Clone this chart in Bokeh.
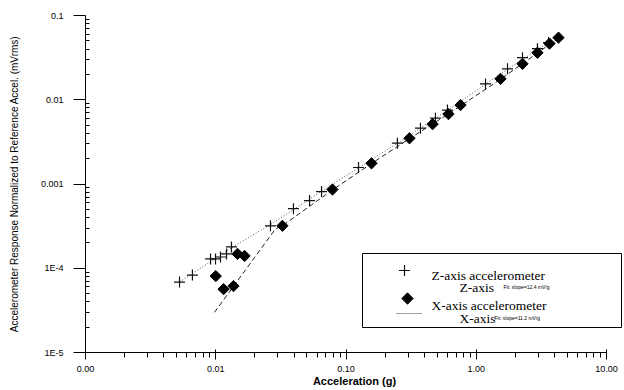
import math
from bokeh.plotting import figure
from bokeh.models import FixedTicker, Label, BoxAnnotation, Range1d
from bokeh.embed import file_html
from bokeh.resources import INLINE

# ---------------- data ----------------
z_accel = [0.00527, 0.00662, 0.00912, 0.00996, 0.01087, 0.0121, 0.0132, 0.0263, 0.0395,
           0.0525, 0.0649, 0.1248, 0.248, 0.373, 0.486, 0.601, 1.178, 1.738, 2.265, 2.95, 3.59]
z_resp = [6.85e-5, 8.3e-5, 1.29e-4, 1.29e-4, 1.36e-4, 1.48e-4, 1.79e-4, 3.19e-4, 5.1e-4,
          6.36e-4, 8.13e-4, 1.57e-3, 3.05e-3, 4.6e-3, 6.05e-3, 7.55e-3, 0.0154, 0.0233,
          0.0316, 0.0404, 0.0477]

x_accel = [0.0100, 0.01148, 0.01368, 0.01469, 0.01664, 0.0325, 0.0787, 0.157, 0.307,
           0.462, 0.612, 0.757, 1.535, 2.265, 2.95, 3.65, 4.28]
x_resp = [8.07e-5, 5.65e-5, 6.14e-5, 1.48e-4, 1.40e-4, 3.19e-4, 8.6e-4, 1.76e-3, 3.49e-3,
          5.13e-3, 6.76e-3, 8.65e-3, 0.0177, 0.0267, 0.0361, 0.0464, 0.0546]

xfit_accel = [0.00978, 0.0288, 0.0325, 0.0787, 0.157, 0.307, 0.612, 1.535, 4.28]
xfit_resp = [3.0e-5, 2.94e-4, 3.2e-4, 8.5e-4, 1.75e-3, 3.45e-3, 6.8e-3, 1.75e-2, 5.4e-2]

zfit_accel = [0.0053, 0.0132, 0.0263, 0.0649, 0.248, 0.601, 1.738, 3.6]
zfit_resp = [6.9e-5, 1.75e-4, 3.3e-4, 8.2e-4, 3.05e-3, 7.5e-3, 2.3e-2, 4.8e-2]

x_major = [0.001, 0.01, 0.1, 1.0, 10.0]
x_labels = ["0.00", "0.01", "0.10", "1.00", "10.00"]
y_major = [1e-5, 1e-4, 1e-3, 1e-2, 1e-1]
y_labels = ["1E-5", "1E-4", "0.001", "0.01", "0.1"]

legend_z = "Z-axis accelerometer"
legend_zfit = "Z-axis"
legend_zfit_note = "Fit: slope=12.4 mV/g"
legend_x = "X-axis accelerometer"
legend_xfit = "X-axis"
legend_xfit_note = "Fit: slope=11.2 mV/g"
x_title = "Acceleration (g)"
y_title = "Accelerometer Response Normalized to Reference Accel. (mVrms)"

# ---------------- layout ----------------
W, H = 624, 390
FRAME_L, FRAME_R, FRAME_T, FRAME_B = 85, 623, 15, 352  # pixels in the picture
PX_PER_DEC_X = 130.25
X0 = 0.001
X1 = 10 ** (math.log10(X0) + (FRAME_R - FRAME_L) / PX_PER_DEC_X)
Y0, Y1 = 1e-5, 0.1


def page_to_data(px, py):
    fx = (px - FRAME_L) / (FRAME_R - FRAME_L)
    fy = (FRAME_B - py) / (FRAME_B - FRAME_T)
    lx = math.log10(X0) + fx * (math.log10(X1) - math.log10(X0))
    ly = math.log10(Y0) + fy * (math.log10(Y1) - math.log10(Y0))
    return 10 ** lx, 10 ** ly


def minors(lo_exp, hi_exp):
    return [m * 10.0 ** e for e in range(lo_exp, hi_exp) for m in range(2, 10)]


p = figure(width=W, height=H, x_axis_type="log", y_axis_type="log",
           x_range=Range1d(X0, X1), y_range=Range1d(Y0, Y1),
           output_backend="svg", toolbar_location=None,
           min_border_left=FRAME_L, min_border_right=W - FRAME_R,
           min_border_top=FRAME_T, min_border_bottom=H - FRAME_B)
p.outline_line_color = None
p.xgrid.visible = False
p.ygrid.visible = False
p.background_fill_color = "white"
p.border_fill_color = "white"

# axes
xa = p.xaxis[0]
xa.ticker = FixedTicker(ticks=x_major, minor_ticks=minors(-3, 1))
xa.major_label_overrides = dict(zip(x_major, x_labels))
xa.bounds = (X0, 10.0)
xa.axis_line_color = "black"
xa.major_tick_line_color = "black"
xa.minor_tick_line_color = "black"
xa.major_tick_in = 3
xa.major_tick_out = 7
xa.minor_tick_in = 0
xa.minor_tick_out = 5
xa.major_label_standoff = 6
xa.major_label_text_font = "Liberation Sans"
xa.major_label_text_font_size = "9px"
xa.major_label_text_color = "black"
xa.axis_label = x_title
xa.axis_label_text_font = "Liberation Sans"
xa.axis_label_text_font_size = "11px"
xa.axis_label_text_font_style = "bold"
xa.axis_label_text_color = "black"
xa.axis_label_standoff = 0

ya = p.yaxis[0]
ya.ticker = FixedTicker(ticks=y_major, minor_ticks=minors(-5, -1))
ya.major_label_overrides = dict(zip(y_major, y_labels))
ya.bounds = (Y0, Y1)
ya.axis_line_color = "black"
ya.major_tick_line_color = "black"
ya.minor_tick_line_color = "black"
ya.major_tick_in = 0
ya.major_tick_out = 12
ya.minor_tick_in = 4
ya.minor_tick_out = 0
ya.major_label_standoff = 10
ya.major_label_text_font = "Liberation Sans"
ya.major_label_text_font_size = "9px"
ya.major_label_text_color = "black"
ya.axis_label = y_title
ya.axis_label_text_font = "Liberation Sans"
ya.axis_label_text_font_size = "10px"
ya.axis_label_text_font_style = "normal"
ya.axis_label_text_color = "black"
ya.axis_label_standoff = 18

# fit lines
p.line(zfit_accel, zfit_resp, line_color="#555555", line_width=1, line_dash="1 2")
p.line(xfit_accel, xfit_resp, line_color="#222222", line_width=1, line_dash="5 3")

# data
p.scatter(z_accel, z_resp, marker="cross", size=11, line_color="#111111", line_width=1.2)
p.scatter(x_accel, x_resp, marker="square", angle=math.pi / 4, size=8,
          fill_color="black", line_color="black")

# legend box
bl, bb = page_to_data(362, 327)
br, bt = page_to_data(621, 253)
p.add_layout(BoxAnnotation(left=bl, right=br, bottom=bb, top=bt, fill_color="white",
                           fill_alpha=1.0, line_color="black", line_width=1, line_alpha=1.0,
                           level="underlay"))

# legend swatches
sx, sy = page_to_data(404, 270)
p.scatter([sx], [sy], marker="cross", size=11, line_color="#111111", line_width=1.2)
sx, sy = page_to_data(407, 298)
p.scatter([sx], [sy], marker="square", angle=math.pi / 4, size=8,
          fill_color="black", line_color="black")
l1x, l1y = page_to_data(396, 313)
l2x, l2y = page_to_data(421, 313)
p.line([l1x, l2x], [l1y, l2y], line_color="#444444", line_width=1, line_dash="1 1")


def add_text(txt, px, py, font, size):
    dx, dy = page_to_data(px, py)
    p.add_layout(Label(x=dx, y=dy, text=txt, text_align="left", text_baseline="alphabetic",
                       text_font=font, text_font_size=size, text_color="black"))


add_text(legend_z, 431, 275, "Liberation Serif", "13.5px")
add_text(legend_zfit, 459, 287, "Liberation Serif", "13.5px")
add_text(legend_zfit_note, 503, 286, "Liberation Sans", "5px")
add_text(legend_x, 431, 305, "Liberation Serif", "13.5px")
add_text(legend_xfit, 459, 318, "Liberation Serif", "13.5px")
add_text(legend_xfit_note, 494, 317, "Liberation Sans", "5px")

open("out.html", "w").write(file_html(p, INLINE))
